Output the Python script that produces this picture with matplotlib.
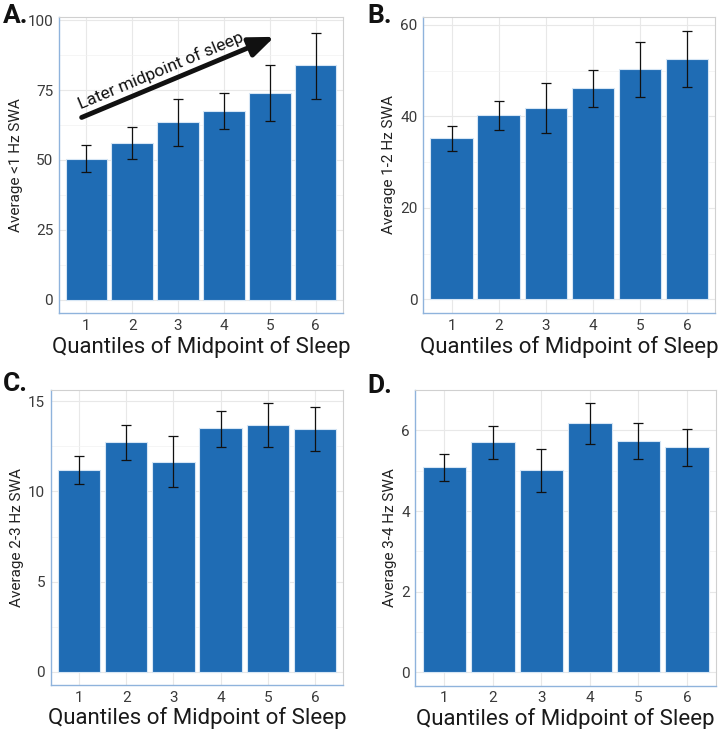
import matplotlib
matplotlib.use("Agg")
import matplotlib.pyplot as plt
import numpy as np

plt.rcParams['font.family'] = ['Roboto', 'DejaVu Sans']

quantiles = ["1", "2", "3", "4", "5", "6"]

a_mean = [50.4, 56.1, 63.5, 67.5, 73.9, 84.0]
a_low = [45.8, 50.5, 55.0, 60.9, 63.8, 71.9]
a_high = [55.2, 61.7, 71.9, 73.8, 83.8, 95.5]

b_mean = [35.2, 40.2, 41.9, 46.1, 50.3, 52.6]
b_low = [32.4, 37.0, 36.4, 42.1, 44.3, 46.5]
b_high = [37.8, 43.3, 47.4, 50.1, 56.3, 58.7]

c_mean = [11.20, 12.73, 11.66, 13.51, 13.67, 13.47]
c_low = [10.41, 11.75, 10.24, 12.49, 12.44, 12.25]
c_high = [11.96, 13.67, 13.06, 14.48, 14.89, 14.67]

d_mean = [5.08, 5.71, 5.01, 6.17, 5.74, 5.58]
d_low = [4.74, 5.29, 4.46, 5.67, 5.30, 5.11]
d_high = [5.42, 6.12, 5.53, 6.67, 6.17, 6.04]

ylabels = ["Average <1 Hz SWA", "Average 1-2 Hz SWA",
           "Average 2-3 Hz SWA", "Average 3-4 Hz SWA"]
panel_letters = ["A.", "B.", "C.", "D."]
yticks = [[0, 25, 50, 75, 100], [0, 20, 40, 60], [0, 5, 10, 15], [0, 2, 4, 6]]
ylims = [(-4.8, 101.2), (-3.06, 61.8), (-0.74, 15.63), (-0.33, 7.0)]
xlabel = "Quantiles of Midpoint of Sleep"

BAR = "#1f6cb4"
W, H = 724, 729
fig = plt.figure(figsize=(W / 100, H / 100), dpi=100)

# axes rectangles in pixel coords (left, top, right, bottom)
boxes = [(58.7, 16.7, 343.3, 313.3), (423.3, 16.7, 715.3, 313.3),
         (50.7, 390.0, 343.3, 685.0), (415.3, 390.0, 716.0, 685.7)]
letter_pos = [(3, 16), (367, 16), (3, 384), (367, 386)]
data = [(a_mean, a_low, a_high), (b_mean, b_low, b_high),
        (c_mean, c_low, c_high), (d_mean, d_low, d_high)]

axes = []
for i, ((l, t, r, b), (m, lo, hi)) in enumerate(zip(boxes, data)):
    ax = fig.add_axes([l / W, 1 - b / H, (r - l) / W, (b - t) / H])
    axes.append(ax)
    x = np.arange(1, len(quantiles) + 1)
    m = np.array(m); lo = np.array(lo); hi = np.array(hi)
    ax.bar(x, m, width=0.9, color=BAR, edgecolor="#d6e6f5", linewidth=0.8, zorder=2)
    ax.errorbar(x, m, yerr=[m - lo, hi - m], fmt="none", ecolor="#111111",
                elinewidth=0.9, capsize=3.5, capthick=0.9, zorder=3)
    ax.set_xlim(0.4, 6.6)
    ax.set_ylim(*ylims[i])
    ax.set_xticks(x)
    ax.set_xticklabels(quantiles)
    ax.set_yticks(yticks[i])
    yt = yticks[i]
    step = yt[1] - yt[0]
    ax.set_yticks([v + step / 2 for v in yt if v + step / 2 < ylims[i][1]], minor=True)
    ax.set_xticks([], minor=True)
    ax.grid(True, which="major", color="#e8e8e8", linewidth=0.8, zorder=0)
    ax.grid(True, which="minor", axis="y", color="#f2f2f2", linewidth=0.5, zorder=0)
    ax.set_axisbelow(True)
    ax.tick_params(axis="both", which="both", length=0, labelsize=11,
                   labelcolor="#3a3a3a", pad=4)
    ax.tick_params(axis="y", which="minor", length=0)
    for s in ["left", "bottom"]:
        ax.spines[s].set_color("#8fb3dc")
        ax.spines[s].set_linewidth(1.0)
    for s in ["top", "right"]:
        ax.spines[s].set_color("#d0d0d0")
        ax.spines[s].set_linewidth(0.8)
    ax.set_ylabel(ylabels[i], fontsize=11, color="#222222", labelpad=3)
    ax.set_xlabel(xlabel, fontsize=16, color="#1a1a1a", labelpad=2)
    lx, ly = letter_pos[i]
    fig.text(lx / W, 1 - ly / H, panel_letters[i],
             fontsize=19, fontweight="bold", ha="left", va="center", color="#111111")

# Arrow annotation on panel A
axA = axes[0]
axA.annotate("", xy=(5.10, 94.0), xytext=(0.9, 65.2),
             arrowprops=dict(arrowstyle="-|>,head_length=1.5,head_width=0.6",
                             color="#111111", lw=3.5, shrinkA=0, shrinkB=0),
             zorder=4)
axA.text(2.62, 82.0, "Later midpoint of sleep", fontsize=12.5, rotation=22.6,
         rotation_mode="anchor", ha="center", va="center", color="#111111", zorder=4)

fig.savefig("out.png", dpi=100)
